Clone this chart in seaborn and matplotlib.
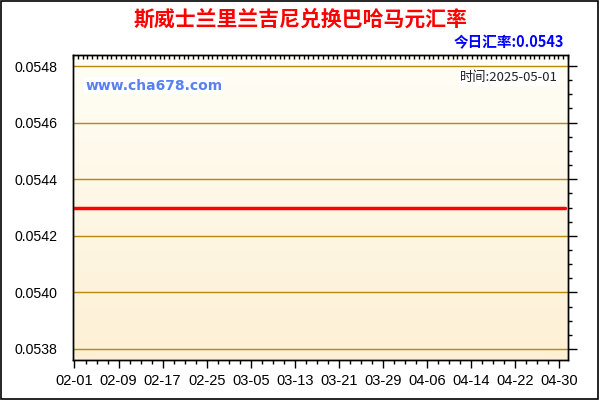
import numpy as np
import pandas as pd
import seaborn as sns
import matplotlib.pyplot as plt
import matplotlib.dates as mdates
from matplotlib.patches import Rectangle

# chart data
dates = ["2025-02-01", "2025-02-09", "2025-02-17", "2025-02-25", "2025-03-05",
         "2025-03-13", "2025-03-21", "2025-03-29", "2025-04-06", "2025-04-14",
         "2025-04-22", "2025-04-30", "2025-05-01"]
rates = [0.0543, 0.0543, 0.0543, 0.0543, 0.0543, 0.0543, 0.0543,
         0.0543, 0.0543, 0.0543, 0.0543, 0.0543, 0.0543]
y_ticks = [0.0538, 0.0540, 0.0542, 0.0544, 0.0546, 0.0548]
title = "斯威士兰里兰吉尼兑换巴哈马元汇率"
today_label = "今日汇率:0.0543"
date_label = "时间:2025-05-01"
site = "www.cha678.com"

df = pd.DataFrame({"date": pd.to_datetime(dates), "rate": rates})

sns.set_style("white")
plt.rcParams["font.family"] = ["Liberation Sans", "Noto Sans CJK SC", "DejaVu Sans"]

fig = plt.figure(figsize=(6, 4), dpi=100)
ax = fig.add_axes([73 / 600, 40 / 400, 495 / 600, 305 / 400])

start = pd.Timestamp("2025-02-01")
x0 = start - pd.Timedelta(hours=6.5)
x1 = start + pd.Timedelta(days=89.6)
ylo, yhi = 0.053761, 0.054839

# vertical gradient background
grad = np.linspace(0, 1, 256).reshape(-1, 1)
top_c = np.array([255, 254, 246]) / 255
bot_c = np.array([253, 240, 212]) / 255
img = top_c + (bot_c - top_c) * grad[..., None]
ax.imshow(img, extent=[mdates.date2num(x0), mdates.date2num(x1), ylo, yhi],
          aspect="auto", origin="upper", zorder=0)

for yv in y_ticks:
    ax.axhline(yv, color="#b8860b", lw=1, zorder=1)

sns.lineplot(data=df, x="date", y="rate", color="#ff0000", lw=2.5, ax=ax, zorder=3)

ax.set_xlim(x0, x1)
ax.set_ylim(ylo, yhi)
ax.set_xlabel("")
ax.set_ylabel("")

ax.set_yticks(y_ticks)
ax.set_yticklabels([f"{v:.4f}" for v in y_ticks], fontsize=10.2)
ax.yaxis.set_minor_locator(plt.MultipleLocator(0.00005))

tick_dates = pd.date_range("2025-02-01", periods=12, freq="8D")
ax.set_xticks(tick_dates)
ax.set_xticklabels([d.strftime("%m-%d") for d in tick_dates], fontsize=10.5)
ax.set_xticks(pd.date_range("2025-02-01", "2025-05-01", freq="2D"), minor=True)

ax.tick_params(axis="x", which="major", direction="out", length=6, width=1,
               color="black", labelcolor="black", pad=4)
ax.tick_params(axis="x", which="minor", direction="out", length=3, width=1, color="black")
ax.tick_params(axis="y", which="major", direction="out", length=6.5, width=1,
               color="black", labelcolor="black", pad=5, right=True)
ax.tick_params(axis="y", which="minor", direction="out", length=3, width=1,
               color="black", right=True)

# small inward ticks along the top edge
top = ax.twiny()
top.set_xlim(0, 103)
top.set_xticks(np.arange(0, 104, 1))
top.set_xticklabels([])
top.tick_params(axis="x", direction="in", length=3, width=1, color="black", top=True, bottom=False)
top.grid(False)

for a in (ax, top):
    for s in a.spines.values():
        s.set_visible(True)
        s.set_color("black")
        s.set_linewidth(1)

fig.text(0.5, 0.952, title, ha="center", va="center", fontsize=15, fontweight="bold",
         color="#ff0000", family=["Noto Sans CJK SC", "DejaVu Sans"])
fig.text(564 / 600, 1 - 42 / 400, today_label, ha="right", va="center", fontsize=10.5,
         fontweight="bold", color="#0000ff", family=["Noto Sans CJK SC", "DejaVu Sans"])
ax.text(0.025, 0.9, site, transform=ax.transAxes, ha="left", va="center",
        fontsize=10, fontweight="bold", color="#5a7ff0", family=["DejaVu Sans"],
        bbox=dict(facecolor="white", edgecolor="none", pad=1))
ax.text(0.98, 0.925, date_label, transform=ax.transAxes, ha="right", va="center",
        fontsize=9.5, color="#222222", family=["Noto Sans CJK SC", "DejaVu Sans"],
        bbox=dict(facecolor="white", edgecolor="none", pad=1))

fig.patches.append(Rectangle((0.001, 0.002), 0.996, 0.995, transform=fig.transFigure,
                             fill=False, edgecolor="black", lw=1.2))

fig.savefig("out.png", dpi=100)
